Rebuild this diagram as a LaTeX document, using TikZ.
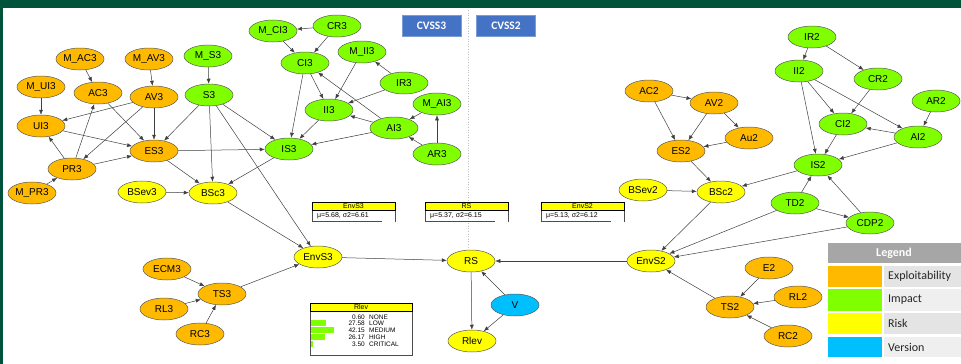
\documentclass[tikz,border=0pt]{standalone}
\usepackage{fontspec}
\setmainfont{Liberation Sans}
\newfontfamily\legfont{Carlito}
\usetikzlibrary{shapes.geometric,arrows.meta}
\definecolor{orng}{HTML}{FFBA00}
\definecolor{grn}{HTML}{80FF00}
\definecolor{yel}{HTML}{FFFF00}
\definecolor{blu}{HTML}{00BFFF}
\definecolor{dkgreen}{HTML}{00533A}
\definecolor{cvss}{HTML}{4472C4}
\definecolor{leggray}{HTML}{A6A6A6}
\definecolor{cellA}{HTML}{E4E4E4}
\definecolor{cellB}{HTML}{EFEFEF}
\definecolor{edgec}{HTML}{404040}
\tikzset{
  nd/.style={ellipse, draw=black!65, line width=0.5pt, minimum width=48pt, minimum height=22pt, inner sep=0pt, font=\fontsize{10}{12}\selectfont},
  ex/.style={nd, fill=orng}, im/.style={nd, fill=grn}, rk/.style={nd, fill=yel}, vr/.style={nd, fill=blu},
  ar/.style={draw=edgec, line width=0.5pt, -{Latex[length=5pt,width=4pt]}},
  cvbox/.style={fill=cvss, draw=cvss!70!white, inner sep=0pt, minimum width=59pt, minimum height=21pt, text=white, font=\legfont\bfseries\fontsize{11.5}{13}\selectfont},
  boxtitle/.style={font=\fontsize{7}{8}\selectfont, inner sep=0pt},
  boxval/.style={font=\fontsize{7}{8}\selectfont, inner sep=0pt, anchor=west},
  legcell/.style={anchor=west, inner sep=0pt, font=\legfont\fontsize{12}{14}\selectfont, text=black!85},
  rowtxt/.style={font=\fontsize{6.5}{7}\selectfont, inner sep=0pt},
}
\begin{document}
\begin{tikzpicture}[x=1pt,y=-1pt]
\useasboundingbox (0,0) rectangle (961,364);
\fill[white] (0,0) rectangle (961,364);
\fill[dkgreen] (0,0) rectangle (961,8);
\fill[dkgreen] (0,0) rectangle (3,364);
% separator
\draw[black!25, dotted, line width=0.6pt] (468,10) -- (468,248);
\node[cvbox] (cv3) at (431.5,25.5) {CVSS3};
\node[cvbox] (cv2) at (506,25.5) {CVSS2};
% CVSS3 nodes
\node[ex] (mac3) at (80,59) {M\_AC3};
\node[ex] (mav3) at (149,59) {M\_AV3};
\node[im] (ms3) at (208,56) {M\_S3};
\node[ex] (mui3) at (41,87) {M\_UI3};
\node[ex] (ac3) at (98,93) {AC3};
\node[ex] (av3) at (154,97) {AV3};
\node[im] (s3) at (209,95) {S3};
\node[ex] (ui3) at (41,126) {UI3};
\node[ex] (es3) at (154,151) {ES3};
\node[ex] (pr3) at (72,169) {PR3};
\node[ex] (mpr3) at (32,193) {M\_PR3};
\node[rk] (bsev3) at (142,192) {BSev3};
\node[rk] (bsc3) at (213,193) {BSc3};
\node[im] (mci3) at (273,31) {M\_CI3};
\node[im] (cr3) at (337,26) {CR3};
\node[im] (ci3) at (305,63) {CI3};
\node[im] (mii3) at (362,52) {M\_II3};
\node[im] (ir3) at (404,83) {IR3};
\node[im] (ii3) at (329,110) {II3};
\node[im] (mai3) at (437,104) {M\_AI3};
\node[im] (ai3) at (394,128) {AI3};
\node[im] (is3) at (289,149) {IS3};
\node[im] (ar3) at (437,154) {AR3};
\node[rk] (envs3) at (318,257) {EnvS3};
\node[ex] (ecm3) at (167,269) {ECM3};
\node[ex] (ts3) at (222,294) {TS3};
\node[ex] (rl3) at (164,309) {RL3};
\node[ex] (rc3) at (200,334) {RC3};
% middle
\node[rk] (rs) at (471,261) {RS};
\node[vr] (v) at (515,305) {V};
\node[rk] (rlev) at (472,341) {Rlev};
% CVSS2 nodes
\node[ex] (ac2) at (649,91) {AC2};
\node[ex] (av2) at (714,103) {AV2};
\node[ex] (es2) at (681,151) {ES2};
\node[ex] (au2) at (749,138) {Au2};
\node[rk] (bsev2) at (643,190) {BSev2};
\node[rk] (bsc2) at (721,192) {BSc2};
\node[im] (ir2) at (812,37) {IR2};
\node[im] (ii2) at (799,71) {II2};
\node[im] (cr2) at (878,79) {CR2};
\node[im] (ar2) at (936,101) {AR2};
\node[im] (ci2) at (843,124) {CI2};
\node[im] (ai2) at (918,137) {AI2};
\node[im] (is2) at (818,165) {IS2};
\node[im] (td2) at (795,203) {TD2};
\node[im] (cdp2) at (870,223) {CDP2};
\node[rk] (envs2) at (651,261) {EnvS2};
\node[ex] (e2) at (769,268) {E2};
\node[ex] (ts2) at (730,307) {TS2};
\node[ex] (rl2) at (798,297) {RL2};
\node[ex] (rc2) at (788,336) {RC2};
% CVSS3 edges
\draw[ar] (mac3) -- (ac3);
\draw[ar] (mav3) -- (av3);
\draw[ar] (ms3) -- (s3);
\draw[ar] (mui3) -- (ui3);
\draw[ar] (av3) -- (ui3);
\draw[ar] (ac3) -- (es3);
\draw[ar] (av3) -- (es3);
\draw[ar] (s3) -- (es3);
\draw[ar] (ui3) -- (es3);
\draw[ar] (pr3) -- (ui3);
\draw[ar] (pr3) -- (ac3);
\draw[ar] (av3) -- (pr3);
\draw[ar] (pr3) -- (es3);
\draw[ar] (mpr3) -- (pr3);
\draw[ar] (es3) -- (bsc3);
\draw[ar] (s3) -- (bsc3);
\draw[ar] (es3) -- (is3);
\draw[ar] (s3) -- (is3);
\draw[ar] (s3) -- (envs3);
\draw[ar] (is3) -- (bsc3);
\draw[ar] (bsev3) -- (bsc3);
\draw[ar] (bsc3) -- (envs3);
\draw[ar] (cr3) -- (mci3);
\draw[ar] (mci3) -- (ci3);
\draw[ar] (cr3) -- (ci3);
\draw[ar] (ci3) -- (ii3);
\draw[ar] (ci3) -- (is3);
\draw[ar] (mii3) -- (ii3);
\draw[ar] (ir3) -- (mii3);
\draw[ar] (ir3) -- (ii3);
\draw[ar] (ii3) -- (is3);
\draw[ar] (ai3) -- (ii3);
\draw[ar] (ai3) -- (ci3);
\draw[ar] (ai3) -- (is3);
\draw[ar] (mai3) -- (ai3);
\draw[ar] (ar3) -- (mai3);
\draw[ar] (ar3) -- (ai3);
\draw[ar] (ecm3) -- (ts3);
\draw[ar] (rl3) -- (ts3);
\draw[ar] (rc3) -- (ts3);
\draw[ar] (ts3) -- (envs3);
% middle edges
\draw[ar] (envs3) -- (rs);
\draw[ar] (envs2) -- (rs);
\draw[ar] (rs) -- (rlev);
\draw[ar] (v) -- (rs);
\draw[ar] (v) -- (rlev);
% CVSS2 edges
\draw[ar] (ir2) -- (ii2);
\draw[ar] (ir2) -- (cr2);
\draw[ar] (ii2) -- (ci2);
\draw[ar] (ii2) -- (ai2);
\draw[ar] (ii2) -- (is2);
\draw[ar] (cr2) -- (ci2);
\draw[ar] (ar2) -- (ai2);
\draw[ar] (ai2) -- (ci2);
\draw[ar] (ai2) -- (is2);
\draw[ar] (ci2) -- (is2);
\draw[ar] (ac2) -- (av2);
\draw[ar] (ac2) -- (es2);
\draw[ar] (av2) -- (es2);
\draw[ar] (av2) -- (au2);
\draw[ar] (au2) -- (es2);
\draw[ar] (es2) -- (bsc2);
\draw[ar] (bsev2) -- (bsc2);
\draw[ar] (is2) -- (bsc2);
\draw[ar] (td2) -- (is2);
\draw[ar] (cdp2) -- (is2);
\draw[ar] (td2) -- (cdp2);
\draw[ar] (bsc2) -- (envs2);
\draw[ar] (td2) -- (envs2);
\draw[ar] (cdp2) -- (envs2);
\draw[ar] (ts2) -- (envs2);
\draw[ar] (e2) -- (ts2);
\draw[ar] (rl2) -- (ts2);
\draw[ar] (rc2) -- (ts2);
% info boxes
\foreach \bx/\tt/\vv in {312/EnvS3/{μ=5.68, σ2=6.61}, 425/RS/{μ=5.37, σ2=6.15}, 541/EnvS2/{μ=5.13, σ2=6.12}}{
  \draw[black!70, line width=0.5pt] (\bx,210) -- (\bx,221) -- (\bx+70,221);
  \draw[black!70, line width=0.5pt] (\bx+83,210) -- (\bx+83,222);
  \draw[black, line width=0.5pt, fill=yel] (\bx,202) rectangle (\bx+83,210);
  \node[boxtitle] at (\bx+41.5,206.2) {\tt};
  \node[boxval] at (\bx+5,215.5) {\vv};
}
% Rlev box
\draw[black!70, line width=0.5pt] (310,303) rectangle (412,355);
\draw[black, line width=0.5pt, fill=yel] (310,303) rectangle (412,311);
\node[boxtitle] (rlevt) at (361,307.2) {Rlev};
\fill[grn] (311,320) rectangle (326,326);
\fill[grn] (311,327) rectangle (334,333);
\fill[grn] (311,334) rectangle (325,340);
\fill[grn] (311,341) rectangle (313,347);
\foreach \yy/\nn/\ll in {317/0.60/NONE, 323.5/27.58/LOW, 330.5/42.15/MEDIUM, 337/26.17/HIGH, 344/3.50/CRITICAL}{
  \node[rowtxt, anchor=east] at (365,\yy) {\nn};
  \node[rowtxt, anchor=west] at (369,\yy) {\ll};
}
% Legend
\fill[leggray] (828,243) rectangle (961,263);
\node[font=\legfont\bfseries\fontsize{12}{14}\selectfont, text=white, inner sep=0pt] (legh) at (894,253) {Legend};
\fill[orng] (828,266) rectangle (882,287);
\fill[cellA] (884,266) rectangle (961,287);
\node[legcell] (l1) at (888,276.5) {Exploitability};
\fill[grn] (828,289) rectangle (882,311);
\fill[cellB] (884,289) rectangle (961,311);
\node[legcell] (l2) at (888,300) {Impact};
\fill[yel] (828,313) rectangle (882,334);
\fill[cellA] (884,313) rectangle (961,334);
\node[legcell] (l3) at (888,323.5) {Risk};
\fill[blu] (828,337) rectangle (882,357);
\fill[cellB] (884,337) rectangle (961,357);
\node[legcell] (l4) at (888,347) {Version};
\end{tikzpicture}
\end{document}
